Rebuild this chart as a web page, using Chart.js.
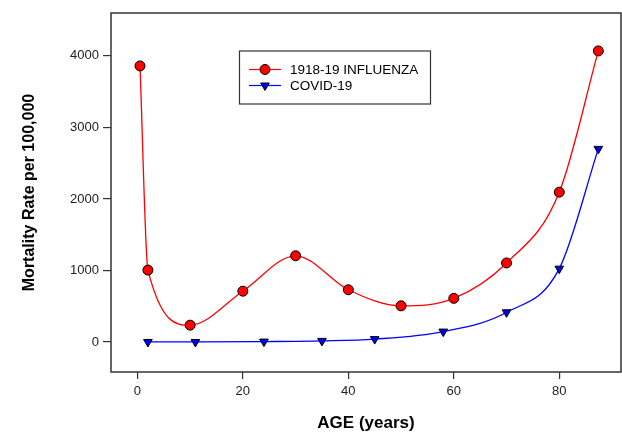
<!DOCTYPE html>
<html>
<head>
<meta charset="utf-8">
<script src="https://cdn.jsdelivr.net/npm/chart.js@4"></script>
<style>
  html, body { margin: 0; padding: 0; background: #fff; overflow: hidden; }
  canvas { display: block; }
</style>
</head>
<body>
<canvas id="c" width="622" height="434"></canvas>
<script>
// values
const fluAge  = [0.5, 2, 10, 20, 30, 40, 50, 60, 70, 80, 87.4];
const fluRate = [3860, 1005, 235, 710, 1205, 730, 505, 610, 1105, 2095, 4070];
const covAge  = [2, 11, 24, 35, 45, 58, 70, 80, 87.4];
const covRate = [0, 0, 5, 15, 40, 145, 415, 1025, 2700];
const xTicks = [0, 20, 40, 60, 80];
const yTicks = [0, 1000, 2000, 3000, 4000];

const FONT = "'Liberation Sans', Arial, sans-serif";

function pts(xs, ys) { return xs.map((x, i) => ({ x: x, y: ys[i] })); }

// frame round the plot area + legend box inside it
const framePlugin = {
  id: "frame",
  afterDraw(chart) {
    const ctx = chart.ctx, a = chart.chartArea;
    ctx.save();
    ctx.strokeStyle = "#333";
    ctx.lineWidth = 1.5;
    ctx.strokeRect(a.left, a.top, a.right - a.left, a.bottom - a.top);

    // legend
    ctx.lineWidth = 1.2;
    ctx.strokeStyle = "#333";
    ctx.strokeRect(239.5, 51, 191, 53);
    const rows = [
      { label: "1918-19 INFLUENZA", ds: chart.data.datasets[0], y: 69.5 },
      { label: "COVID-19", ds: chart.data.datasets[1], y: 85.5 },
    ];
    ctx.font = "13.5px " + FONT;
    ctx.textBaseline = "middle";
    rows.forEach((r) => {
      ctx.strokeStyle = r.ds.borderColor;
      ctx.lineWidth = 1.2;
      ctx.beginPath();
      ctx.moveTo(249, r.y);
      ctx.lineTo(281, r.y);
      ctx.stroke();
      ctx.fillStyle = r.ds.pointBackgroundColor;
      ctx.strokeStyle = "#000";
      ctx.lineWidth = 1;
      Chart.helpers.drawPoint(ctx, {
        pointStyle: r.ds.pointStyle,
        radius: r.ds.pointRadius,
        rotation: r.ds.pointRotation || 0,
        borderWidth: 1,
      }, 265, r.y);
      ctx.fillStyle = "#000";
      ctx.fillText(r.label, 290, r.y + 1);
    });
    ctx.restore();
  },
};

new Chart(document.getElementById("c"), {
  type: "line",
  data: {
    datasets: [
      {
        label: "1918-19 INFLUENZA",
        data: pts(fluAge, fluRate),
        borderColor: "#ff0000",
        borderWidth: 1.3,
        cubicInterpolationMode: "monotone",
        pointStyle: "circle",
        pointRadius: 5,
        pointBackgroundColor: "#ff0000",
        pointBorderColor: "#000",
        pointBorderWidth: 1,
      },
      {
        label: "COVID-19",
        data: pts(covAge, covRate),
        borderColor: "#0000ff",
        borderWidth: 1.3,
        cubicInterpolationMode: "monotone",
        pointStyle: "triangle",
        pointRotation: 180,
        pointRadius: 5,
        pointBackgroundColor: "#0000ff",
        pointBorderColor: "#000",
        pointBorderWidth: 1,
      },
    ],
  },
  options: {
    responsive: false,
    animation: false,
    layout: { autoPadding: false, padding: { top: 13, right: 1, left: 16, bottom: 0 } },
    plugins: { legend: { display: false }, tooltip: { enabled: false } },
    scales: {
      x: {
        type: "linear",
        min: -5,
        max: 91.7,
        afterBuildTicks: (s) => { s.ticks = xTicks.map((v) => ({ value: v })); },
        afterFit: (s) => { s.height = 62; s.paddingLeft = 0; s.paddingRight = 0; },
        grid: { drawOnChartArea: false, drawTicks: true, tickLength: 7, color: "#333", lineWidth: 1.2 },
        border: { display: false },
        ticks: { color: "#222", font: { family: FONT, size: 13 }, padding: 5, maxRotation: 0, callback: (v) => String(v) },
        title: { display: true, text: "AGE (years)", color: "#000", font: { family: FONT, size: 17, weight: "bold" }, padding: { top: 16, bottom: 0 } },
      },
      y: {
        min: -420,
        max: 4600,
        afterBuildTicks: (s) => { s.ticks = yTicks.map((v) => ({ value: v })); },
        afterFit: (s) => { s.width = 95; s.paddingTop = 0; s.paddingBottom = 0; },
        grid: { drawOnChartArea: false, drawTicks: true, tickLength: 8, color: "#333", lineWidth: 1.2 },
        border: { display: false },
        ticks: { color: "#222", font: { family: FONT, size: 13 }, padding: 4, callback: (v) => String(v) },
        title: { display: true, text: "Mortality Rate per 100,000", color: "#000", font: { family: FONT, size: 16, weight: "bold" }, padding: { bottom: 14 } },
      },
    },
  },
  plugins: [framePlugin],
});
</script>
</body>
</html>
